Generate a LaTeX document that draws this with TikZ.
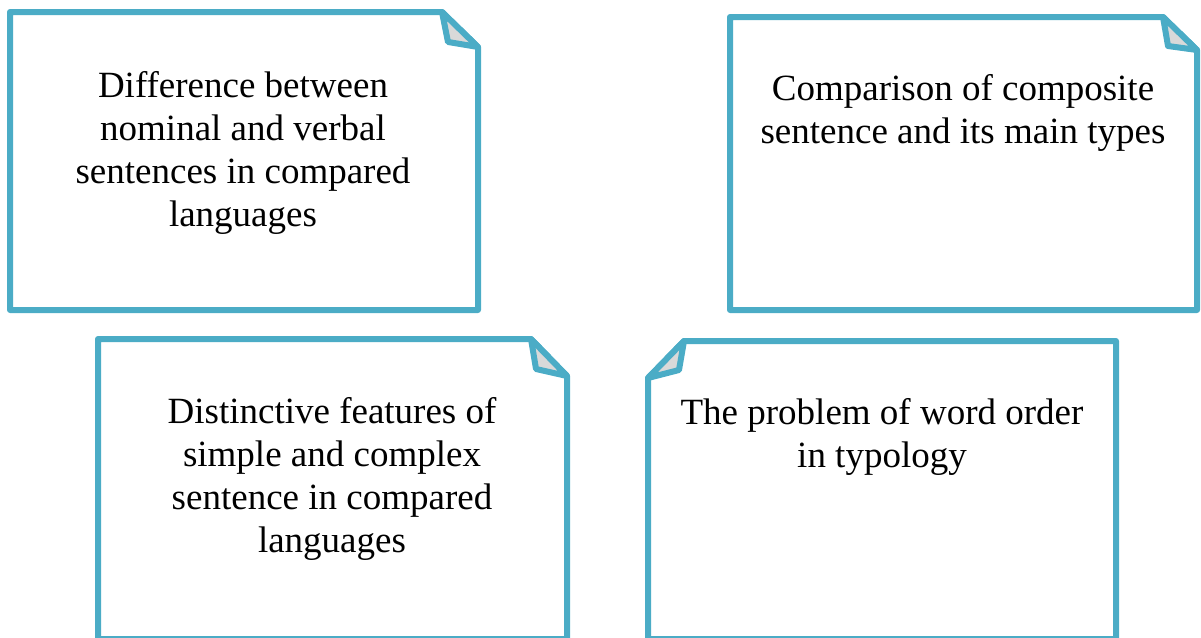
\documentclass[tikz,border=0pt]{standalone}
\usepackage{fontspec}
\setmainfont{Liberation Serif}
\definecolor{boxteal}{HTML}{4BACC6}
\definecolor{flapgray}{HTML}{D9D9D9}
\begin{document}
\begin{tikzpicture}[x=1pt,y=-1pt,
  card/.style={draw=boxteal,line width=6pt,line join=round,fill=white},
  flap/.style={draw=boxteal,line width=6pt,line join=round,fill=flapgray},
  label/.style={font=\fontsize{37}{43.2}\selectfont,align=center,inner sep=0pt}]
\useasboundingbox (0,0) rectangle (1201,637);
\clip (0,0) rectangle (1201,637);
% box 1
\draw[card] (10,12) -- (442,12) -- (478,47) -- (478,310) -- (10,310) -- cycle;
\draw[flap] (442,12) -- (448,42) -- (478,47) -- cycle;
% box 2
\draw[card] (730,17) -- (1163,17) -- (1197,50) -- (1197,310) -- (730,310) -- cycle;
\draw[flap] (1163,17) -- (1168,46) -- (1197,50) -- cycle;
% box 3
\draw[card] (98,339) -- (531,339) -- (567,376) -- (567,639) -- (98,639) -- cycle;
\draw[flap] (531,339) -- (536,369) -- (567,376) -- cycle;
% box 4
\draw[card] (684,341) -- (1116,341) -- (1116,639) -- (648,639) -- (648,378) -- cycle;
\draw[flap] (684,341) -- (679,370) -- (648,378) -- cycle;
% texts
\node[label] (t1) at (243,153) {Difference between\\nominal and verbal\\sentences in compared\\languages};
\node[label] (t2) at (963,113) {Comparison of composite\\sentence and its main types};
\node[label] (t3) at (332,479) {Distinctive features of\\simple and complex\\sentence in compared\\languages};
\node[label] (t4) at (882,437) {The problem of word order\\in typology};
\end{tikzpicture}
\end{document}
